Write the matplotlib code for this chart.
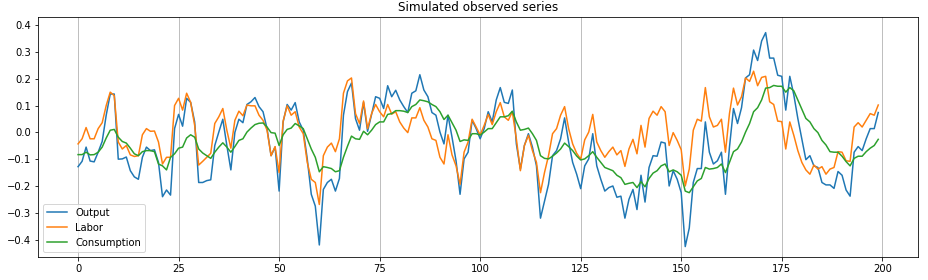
import matplotlib
matplotlib.use("Agg")
import matplotlib.pyplot as plt
import numpy as np

# values (t = 0..199)
output = [
    -0.128, -0.108, -0.055, -0.107, -0.110, -0.074, -0.034, 0.064, 0.143, 0.143,
    -0.100, -0.099, -0.092, -0.143, -0.166, -0.175, -0.093, -0.055, -0.068, -0.065,
    -0.112, -0.240, -0.215, -0.234, 0.014, 0.067, 0.023, 0.127, 0.112, 0.039,
    -0.187, -0.187, -0.180, -0.177, -0.049, 0.001, 0.049, -0.049, -0.140, 0.000,
    0.049, 0.036, 0.104, 0.114, 0.130, 0.096, 0.077, 0.014, -0.087, -0.055,
    -0.219, 0.039, 0.104, 0.083, 0.111, 0.039, 0.008, -0.099, -0.231, -0.275,
    -0.420, -0.213, -0.187, -0.175, -0.219, -0.172, 0.064, 0.152, 0.184, 0.051,
    0.008, 0.112, 0.004, 0.067, 0.133, 0.127, 0.089, 0.174, 0.133, 0.157,
    0.121, 0.096, 0.074, 0.146, 0.155, 0.215, 0.158, 0.133, 0.074, 0.064,
    0.001, -0.043, 0.064, -0.018, -0.106, -0.231, -0.099, -0.074, 0.045, 0.014,
    -0.024, 0.014, 0.077, 0.039, 0.121, 0.167, 0.112, 0.108, 0.158, -0.043,
    -0.137, -0.049, -0.005, -0.055, -0.125, -0.320, -0.257, -0.194, -0.087, -0.068,
    -0.024, 0.054, -0.036, -0.112, -0.156, -0.210, -0.125, -0.099, -0.005, -0.125,
    -0.175, -0.219, -0.206, -0.200, -0.242, -0.238, -0.320, -0.250, -0.213, -0.288,
    -0.160, -0.260, -0.131, -0.087, -0.089, -0.036, -0.040, -0.200, -0.143, -0.175,
    -0.225, -0.426, -0.357, -0.187, -0.135, -0.135, 0.039, -0.074, -0.118, -0.106,
    -0.074, -0.231, -0.055, 0.089, 0.033, 0.092, 0.203, 0.215, 0.307, 0.268,
    0.341, 0.372, 0.277, 0.277, 0.213, 0.209, 0.083, 0.209, 0.140, 0.052,
    -0.024, -0.102, -0.087, -0.125, -0.131, -0.187, -0.196, -0.196, -0.209, -0.146,
    -0.160, -0.215, -0.238, -0.074, -0.053, -0.068, -0.024, 0.014, 0.014, 0.074,
]

labor = [
    -0.043, -0.024, 0.018, -0.024, -0.024, 0.014, 0.036, 0.100, 0.150, 0.137,
    -0.036, -0.062, -0.049, -0.084, -0.090, -0.087, -0.009, 0.014, 0.004, 0.005,
    -0.036, -0.118, -0.093, -0.093, 0.100, 0.127, 0.083, 0.146, 0.112, 0.026,
    -0.122, -0.108, -0.093, -0.078, 0.033, 0.058, 0.089, 0.008, -0.059, 0.045,
    0.079, 0.062, 0.102, 0.099, 0.099, 0.064, 0.045, 0.008, -0.087, -0.053,
    -0.150, 0.042, 0.099, 0.064, 0.077, 0.020, -0.005, -0.112, -0.175, -0.187,
    -0.269, -0.087, -0.055, -0.040, -0.072, -0.024, 0.146, 0.192, 0.203, 0.070,
    0.033, 0.117, 0.014, 0.070, 0.104, 0.077, 0.058, 0.104, 0.068, 0.077,
    0.039, 0.016, -0.001, 0.054, 0.054, 0.092, 0.045, 0.020, -0.024, -0.030,
    -0.093, -0.118, -0.009, -0.084, -0.125, -0.194, -0.074, -0.036, 0.049, 0.020,
    -0.010, 0.026, 0.067, 0.029, 0.077, 0.111, 0.058, 0.045, 0.077, -0.024,
    -0.143, -0.049, -0.011, -0.068, -0.112, -0.225, -0.150, -0.087, -0.005, 0.014,
    0.064, 0.096, 0.014, -0.043, -0.078, -0.100, -0.028, 0.001, 0.067, -0.036,
    -0.068, -0.093, -0.072, -0.055, -0.084, -0.068, -0.127, -0.062, -0.026, -0.080,
    0.026, -0.055, 0.052, 0.079, 0.064, 0.096, 0.077, -0.049, -0.001, -0.030,
    -0.065, -0.200, -0.137, 0.008, 0.049, 0.042, 0.167, 0.058, 0.020, 0.026,
    0.049, -0.074, 0.070, 0.165, 0.102, 0.133, 0.203, 0.190, 0.228, 0.174,
    0.205, 0.209, 0.114, 0.104, 0.042, 0.040, -0.062, 0.039, -0.011, -0.068,
    -0.112, -0.140, -0.156, -0.122, -0.137, -0.128, -0.156, -0.137, -0.131, -0.072,
    -0.074, -0.106, -0.108, 0.020, 0.036, 0.020, 0.045, 0.070, 0.064, 0.102,
]

consumption = [
    -0.083, -0.083, -0.074, -0.084, -0.083, -0.074, -0.055, -0.021, 0.008, 0.011,
    -0.018, -0.034, -0.040, -0.059, -0.080, -0.087, -0.072, -0.068, -0.068, -0.072,
    -0.118, -0.125, -0.140, -0.093, -0.080, -0.059, -0.055, -0.021, -0.009, -0.018,
    -0.062, -0.077, -0.087, -0.097, -0.074, -0.055, -0.039, -0.055, -0.074, -0.053,
    -0.030, -0.024, 0.001, 0.016, 0.029, 0.034, 0.035, 0.020, -0.001, -0.003,
    -0.049, -0.009, 0.011, 0.016, 0.033, 0.024, 0.014, -0.024, -0.062, -0.093,
    -0.147, -0.128, -0.131, -0.135, -0.147, -0.143, -0.093, -0.052, -0.014, -0.024,
    -0.026, 0.004, -0.009, 0.008, 0.029, 0.039, 0.039, 0.067, 0.070, 0.081,
    0.081, 0.079, 0.074, 0.096, 0.104, 0.121, 0.118, 0.114, 0.104, 0.096,
    0.077, 0.048, 0.064, 0.036, 0.008, -0.034, -0.028, -0.030, -0.005, -0.005,
    -0.010, 0.001, 0.014, 0.014, 0.036, 0.058, 0.058, 0.062, 0.079, 0.039,
    0.008, 0.011, 0.016, -0.005, -0.030, -0.087, -0.097, -0.099, -0.089, -0.077,
    -0.062, -0.040, -0.053, -0.068, -0.088, -0.103, -0.099, -0.087, -0.072, -0.093,
    -0.112, -0.131, -0.137, -0.143, -0.160, -0.169, -0.194, -0.190, -0.187, -0.206,
    -0.184, -0.203, -0.172, -0.152, -0.143, -0.125, -0.118, -0.147, -0.140, -0.147,
    -0.160, -0.219, -0.225, -0.203, -0.181, -0.172, -0.131, -0.137, -0.135, -0.131,
    -0.118, -0.150, -0.112, -0.072, -0.062, -0.036, 0.001, 0.033, 0.077, 0.092,
    0.121, 0.165, 0.167, 0.175, 0.172, 0.172, 0.150, 0.167, 0.155, 0.121,
    0.086, 0.052, 0.039, 0.014, -0.001, -0.030, -0.047, -0.072, -0.074, -0.074,
    -0.089, -0.109, -0.125, -0.097, -0.089, -0.089, -0.072, -0.059, -0.049, -0.026,
]

t = np.arange(len(output))

# reference was rendered at 72 dpi
fig = plt.figure(figsize=(928 / 72, 280 / 72), dpi=72)
ax = fig.add_axes([0.041, 0.083, 0.9485, 0.856])

ax.plot(t, output, label="Output")
ax.plot(t, labor, label="Labor")
ax.plot(t, consumption, label="Consumption")

ax.set_ylim(-0.464, 0.43)
ax.grid(axis="x", color="#b0b0b0", linewidth=0.8)
ax.set_title("Simulated observed series")
ax.legend(loc="lower left")

fig.savefig("out.png", dpi=72, facecolor="white")
